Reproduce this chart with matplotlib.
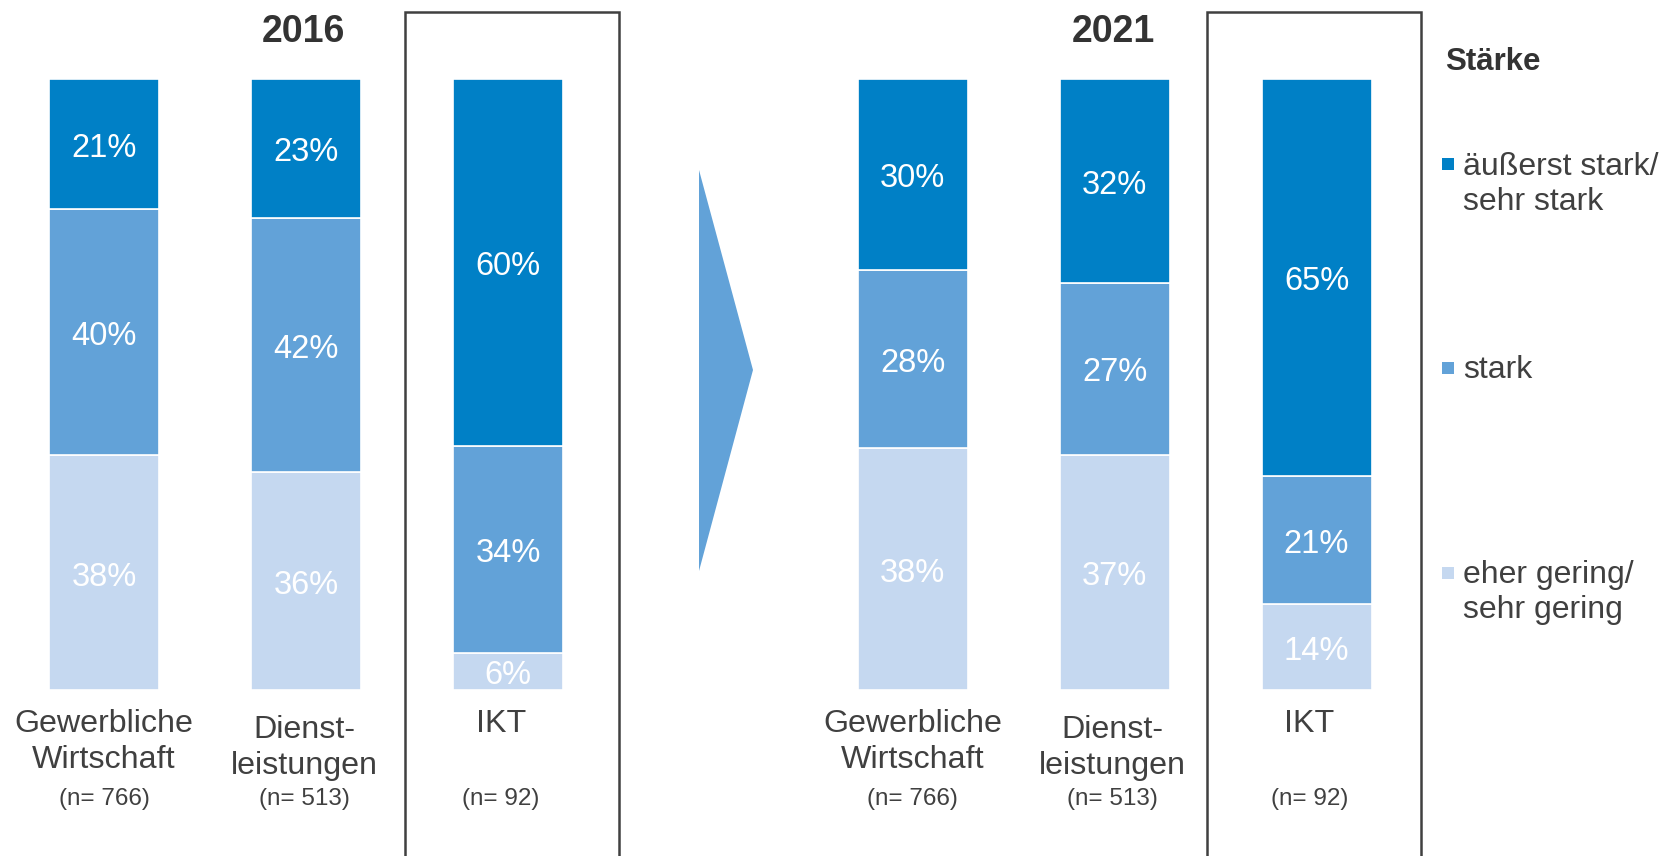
import matplotlib
matplotlib.use("Agg")
import matplotlib.pyplot as plt
import matplotlib.patches as mpatches
import matplotlib.transforms as mtrans
import numpy as np

plt.rcParams['font.family'] = ['Liberation Sans', 'DejaVu Sans']

# ---- data ----
years = ["2016", "2021"]
categories = ["Gewerbliche\nWirtschaft", "Dienst-\nleistungen", "IKT"]
sample_sizes = ["(n= 766)", "(n= 513)", "(n= 92)"]
series_names = ["äußerst stark/\nsehr stark", "stark", "eher gering/\nsehr gering"]
# values per year: rows = series (top, middle, bottom), columns = categories
vals_2016_top = [21, 23, 60]
vals_2016_mid = [40, 42, 34]
vals_2016_low = [38, 36, 6]
vals_2021_top = [30, 32, 65]
vals_2021_mid = [28, 27, 21]
vals_2021_low = [38, 37, 14]

colors = ["#0080C6", "#62A2D8", "#C5D8F0"]
text_dark = "#404040"

W, H = 1666, 856
fig = plt.figure(figsize=(W / 100, H / 100), dpi=100)


def fx(px):
    return px / W


def fy(py):
    return 1 - py / H


bar_bottom_px, bar_top_px = 690, 79
spacing_px = 202
ax_lefts = [3, 811.5]

data = {
    "2016": (vals_2016_top, vals_2016_mid, vals_2016_low),
    "2021": (vals_2021_top, vals_2021_mid, vals_2021_low),
}
title_x = [303, 1113]
label_dx = [0, -0.01, -0.035]

for i, yr in enumerate(years):
    ax = fig.add_axes([fx(ax_lefts[i]), fy(bar_bottom_px), fx(3 * spacing_px),
                       (bar_bottom_px - bar_top_px) / H])
    ax.set_xlim(-0.5, 2.5)
    ax.set_ylim(0, 100)
    ax.axis('off')
    top, mid, low = [np.array(v, dtype=float) for v in data[yr]]
    total = top + mid + low
    x = np.arange(len(categories))
    stack = [low, mid, top]
    stack_colors = [colors[2], colors[1], colors[0]]
    bottom = np.zeros(len(categories))
    for vals, col in zip(stack, stack_colors):
        h = vals / total * 100
        ax.bar(x, h, bottom=bottom, width=110 / spacing_px, color=col,
               edgecolor='white', linewidth=1.2)
        for xi, hi, bi, v in zip(x, h, bottom, vals):
            ax.text(xi, bi + hi / 2 - 0.7, f"{int(v)}%", ha='center', va='center',
                    color='white', fontsize=23.5, clip_on=True)
        bottom = bottom + h

    tr = mtrans.blended_transform_factory(ax.transData, fig.transFigure)
    for xi, cat, n in zip(x, categories, sample_sizes):
        lines = cat.split("\n")
        if len(lines) == 2:
            if cat.startswith("Dienst"):
                ys = [730, 766]
            else:
                ys = [724, 760]
        else:
            ys = [724]
        for ln, yy in zip(lines, ys):
            ax.text(xi + label_dx[xi], fy(yy), ln, transform=tr, ha='center', va='center',
                    fontsize=23.2, color=text_dark)
        ax.text(xi + label_dx[xi], fy(799), n, transform=tr, ha='center', va='center',
                fontsize=17.5, color=text_dark)

    fig.text(fx(title_x[i]), fy(32), yr, ha='center', va='center', fontsize=27,
             fontweight='bold', color="#333333")

# boxes around IKT
for bx in [405, 1207]:
    rect = mpatches.Rectangle((fx(bx), fy(870)), fx(214), (870 - 12) / H,
                              transform=fig.transFigure, fill=False,
                              edgecolor="#404040", linewidth=1.8)
    fig.patches.append(rect)

# arrow
arrow = mpatches.Polygon([(fx(699), fy(170)), (fx(753), fy(370)), (fx(699), fy(571))],
                         closed=True, transform=fig.transFigure,
                         facecolor=colors[1], edgecolor='none')
fig.patches.append(arrow)

# legend
fig.text(fx(1445), fy(62), "Stärke", ha='left', va='center', fontsize=22.5,
         fontweight='bold', color="#333333")
legend_rows = [(164, [167, 202]), (368, [370]), (573, [575, 610])]
for (sq_y, line_ys), name, col in zip(legend_rows, series_names, colors):
    sq = mpatches.Rectangle((fx(1442), fy(sq_y + 6)), fx(12), 12 / H,
                            transform=fig.transFigure, facecolor=col, edgecolor='none')
    fig.patches.append(sq)
    for ln, yy in zip(name.split("\n"), line_ys):
        fig.text(fx(1463), fy(yy), ln, ha='left', va='center', fontsize=23,
                 color=text_dark)

fig.savefig("out.png", dpi=100)
